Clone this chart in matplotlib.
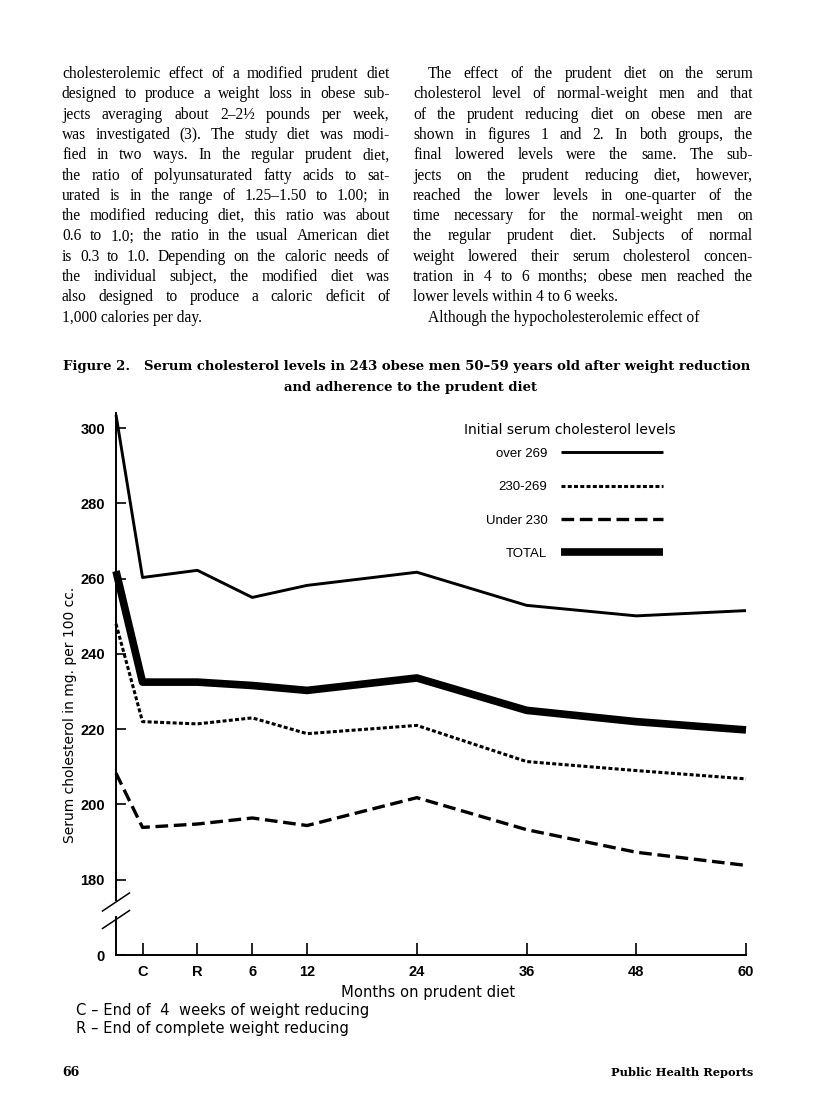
import matplotlib
matplotlib.use("Agg")
import matplotlib.pyplot as plt

# ----------------------------------------------
# Data
# ----------------------------------------------
# x positions in months; the first one is the initial level drawn on the y axis
x_pos = [-8.9, -6, 0, 6, 12, 24, 36, 48, 60]
x_ticks = [-6, 0, 6, 12, 24, 36, 48, 60]
x_tick_labels = ["C", "R", "6", "12", "24", "36", "48", "60"]

# the axis is broken: "0" sits where 160 would be
y_ticks = [160, 180, 200, 220, 240, 260, 280, 300]
y_tick_labels = ["0", "180", "200", "220", "240", "260", "280", "300"]

over_269 = [303.5, 260.3, 262.2, 255.0, 258.2, 261.7, 252.9, 250.1, 251.5]
mid_230_269 = [248.0, 222.0, 221.4, 223.0, 218.8, 221.0, 211.4, 209.0, 206.8]
under_230 = [208.3, 193.9, 194.8, 196.4, 194.4, 201.8, 193.3, 187.3, 183.8]
total = [262.0, 232.5, 232.5, 231.6, 230.3, 233.6, 225.0, 222.0, 219.8]

series_labels = ["over 269", "230-269", "Under 230", "TOTAL"]

left_col = [
    "cholesterolemic effect of a modified prudent diet",
    "designed to produce a weight loss in obese sub-",
    "jects averaging about 2\u20132\u00bd pounds per week,",
    "was investigated (3).  The study diet was modi-",
    "fied in two ways.  In the regular prudent diet,",
    "the ratio of polyunsaturated fatty acids to sat-",
    "urated is in the range of 1.25\u20131.50 to 1.00; in",
    "the modified reducing diet, this ratio was about",
    "0.6 to 1.0; the ratio in the usual American diet",
    "is 0.3 to 1.0.  Depending on the caloric needs of",
    "the individual subject, the modified diet was",
    "also designed to produce a caloric deficit of",
    "1,000 calories per day.",
]
right_col = [
    "The effect of the prudent diet on the serum",
    "cholesterol level of normal-weight men and that",
    "of the prudent reducing diet on obese men are",
    "shown in figures 1 and 2.  In both groups, the",
    "final lowered levels were the same.   The sub-",
    "jects on the prudent reducing diet, however,",
    "reached the lower levels in one-quarter of the",
    "time necessary for the normal-weight men on",
    "the regular prudent diet.  Subjects of normal",
    "weight lowered their serum cholesterol concen-",
    "tration in 4 to 6 months; obese men reached the",
    "lower levels within 4 to 6 weeks.",
    "Although the hypocholesterolemic effect of",
]

W, H = 816, 1119
fig = plt.figure(figsize=(W / 100, H / 100), dpi=100)
fig.patch.set_facecolor("white")
renderer = fig.canvas.get_renderer()

sans = ["Liberation Sans", "DejaVu Sans"]
serif = ["Liberation Serif", "DejaVu Serif"]
cap_serif = ["DejaVu Serif"]


def px(x, y):
    # pixel position on the page -> figure fraction
    return x / W, 1 - y / H


# ----------------------------------------------
# Justified body text
# ----------------------------------------------
def text_width(s, size, **kw):
    t = fig.text(0, 0, s, fontsize=size, **kw)
    w = t.get_window_extent(renderer).width
    t.remove()
    return w


def column(lines, x0, x1, y0, dy, indents, finals, size):
    for i, line in enumerate(lines):
        left = x0 + indents.get(i, 0)
        y = y0 + i * dy
        words = line.split()
        if i in finals:
            fig.text(*px(left, y), line, fontsize=size, family=serif, va="center")
            continue
        widths = [text_width(w, size, family=serif) for w in words]
        gap = (x1 - left - sum(widths)) / (len(words) - 1)
        x = left
        for w, wd in zip(words, widths):
            fig.text(*px(x, y), w, fontsize=size, family=serif, va="center")
            x += wd + gap


# pick one font size so the longest justified line still fits
body = 11.2
for lines, x0, x1, ind in [(left_col, 62, 390, {}), (right_col, 413, 753, {0: 15, 12: 15})]:
    for i, line in enumerate(lines):
        room = x1 - x0 - ind.get(i, 0)
        natural = text_width(" ".join(line.split()), 10.0, family=serif)
        body = min(body, 10.0 * room / natural * 0.99)

column(left_col, 62, 390, 74, 20.3, {}, {12}, body)
column(right_col, 413, 753, 74, 20.3, {0: 15, 12: 15}, {11, 12}, body)

# ----------------------------------------------
# Figure caption
# ----------------------------------------------
fig.text(*px(407, 367),
         "Figure 2.   Serum cholesterol levels in 243 obese men 50\u201359 years old after weight reduction",
         fontsize=9.5, family=cap_serif, weight="bold", ha="center", va="center")
fig.text(*px(410, 388), "and adherence to the prudent diet",
         fontsize=9.5, family=cap_serif, weight="bold", ha="center", va="center")

# ----------------------------------------------
# Chart
# ----------------------------------------------
ax = fig.add_axes([116 / W, 1 - 955 / H, (746 - 116) / W, (955 - 413) / H])
ax.set_xlim(x_pos[0], 60)
ax.set_ylim(160, 304)

l1, = ax.plot(x_pos, over_269, color="black", lw=2.1, solid_joinstyle="round",
              solid_capstyle="butt", clip_on=False)
l2, = ax.plot(x_pos, mid_230_269, color="black", lw=2.2, ls=(0, (1.3, 0.75)),
              clip_on=False)
l3, = ax.plot(x_pos, under_230, color="black", lw=2.4, ls=(0, (3.8, 1.7)),
              clip_on=False)
l4, = ax.plot(x_pos, total, color="black", lw=5.5, solid_joinstyle="round",
              solid_capstyle="butt", clip_on=False)

for side in ["top", "right"]:
    ax.spines[side].set_visible(False)
ax.spines["left"].set_linewidth(1.4)
ax.spines["bottom"].set_linewidth(1.4)
ax.spines["left"].set_bounds(174.7, 304)

# lower piece of the broken y axis and the break marks
ax.plot([x_pos[0], x_pos[0]], [160, 170.1], color="black", lw=1.4, clip_on=False)
for yc in [0.0978, 0.0655]:
    ax.plot([-0.0214, 0.0214], [yc - 0.0166, yc + 0.0166], color="black", lw=1.1,
            transform=ax.transAxes, clip_on=False)

ax.set_xticks(x_ticks, x_tick_labels)
ax.set_yticks(y_ticks, y_tick_labels)
ax.tick_params(axis="x", direction="in", length=9, width=1.2, pad=7, labelsize=10.5)
ax.tick_params(axis="y", direction="in", length=7, width=1.2, pad=8, labelsize=10.5)
plt.setp(ax.get_xticklabels() + ax.get_yticklabels(), family=sans, weight="bold")

fig.text(*px(70, 715), "Serum cholesterol in mg. per 100 cc.", rotation=90,
         fontsize=10, ha="center", va="center")
fig.text(*px(428, 992), "Months on prudent diet", fontsize=10.6, ha="center", va="center")
fig.text(*px(76, 1011), "C \u2013 End of  4  weeks of weight reducing", fontsize=10.6, va="center")
fig.text(*px(76, 1028), "R \u2013 End of complete weight reducing", fontsize=10.6, va="center")

ax.text(0.7206, 0.9686, "Initial serum cholesterol levels", transform=ax.transAxes,
        fontsize=10, ha="center", va="center")
leg = ax.legend([l1, l2, l3, l4], series_labels, loc="upper right",
                bbox_to_anchor=(0.868, 0.936), frameon=False, markerfirst=False,
                fontsize=9.5, handlelength=7.7, handletextpad=1.05, labelspacing=1.6,
                borderpad=0, borderaxespad=0)
plt.setp(leg.get_texts(), family=sans)

# ----------------------------------------------
# Page footer
# ----------------------------------------------
fig.text(*px(62, 1073), "66", fontsize=9, family=cap_serif, weight="bold", va="center")
fig.text(*px(753, 1073), "Public Health Reports", fontsize=8.2, family=cap_serif,
         weight="bold", ha="right", va="center")

fig.savefig("out.png", dpi=100)
